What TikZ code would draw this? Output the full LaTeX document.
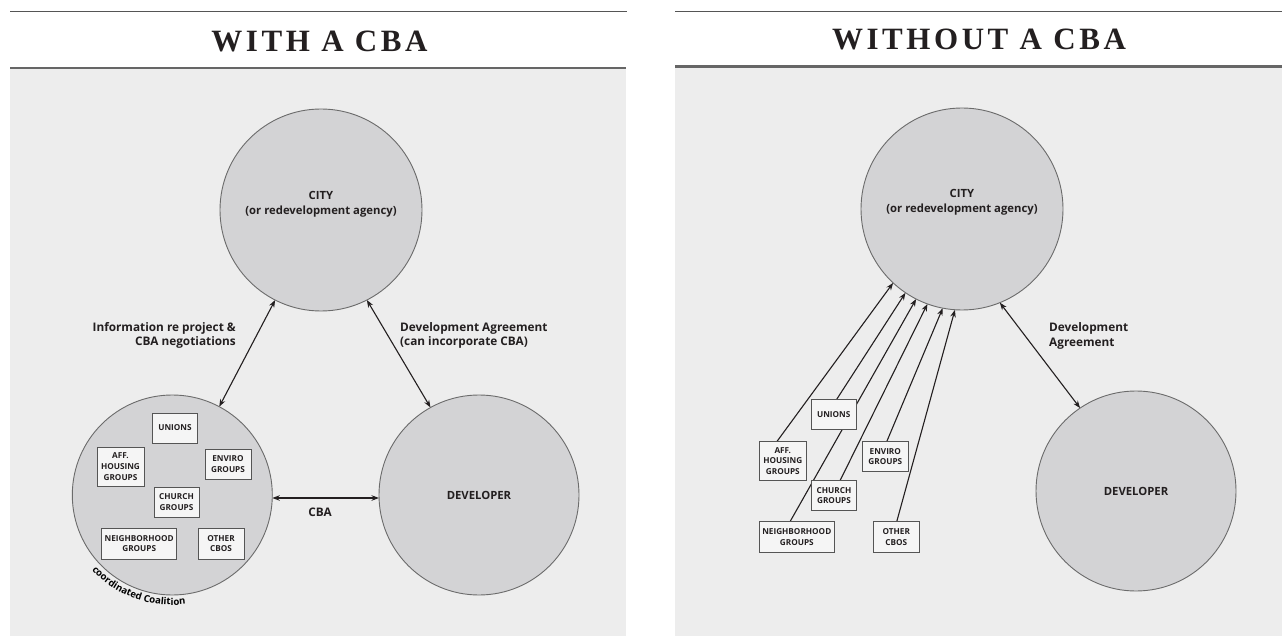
\documentclass[tikz,border=0pt]{standalone}
\usepackage{fontspec}
\setmainfont{Liberation Serif}
\newfontfamily\lblfont{Open Sans}
\newfontfamily\titlefont{Liberation Serif}[LetterSpace=11.5]
\usetikzlibrary{arrows.meta,decorations.text}
\definecolor{panel}{HTML}{EDEDED}
\definecolor{circfill}{HTML}{D3D3D5}
\definecolor{circline}{HTML}{6B6B6B}
\definecolor{boxfill}{HTML}{F5F5F5}
\definecolor{boxline}{HTML}{555555}
\definecolor{ink}{HTML}{231F20}
\definecolor{rule}{HTML}{555555}
\pgfdeclarelayer{back}
\pgfdeclarelayer{mid}
\pgfsetlayers{back,mid,main}
\begin{document}
\begin{tikzpicture}[x=1pt,y=-1pt,
  bigcirc/.style={circle, draw=circline, fill=circfill, line width=0.9pt, minimum size=#1, inner sep=0pt, outer sep=0pt,
    font=\lblfont\bfseries\fontsize{11.3}{14.5}\selectfont, text=ink, align=center},
  grpbox/.style={draw=boxline, fill=boxfill, line width=0.9pt, inner sep=1pt, outer sep=0pt, align=center,
    font=\lblfont\bfseries\fontsize{8.2}{10.7}\selectfont, text=ink},
  lbl/.style={font=\lblfont\bfseries\fontsize{11.8}{14.5}\selectfont, text=ink, inner sep=0pt},
  conn/.style={draw=ink, line width=1.1pt, {Stealth[length=7.5pt,width=5.5pt]}-{Stealth[length=7.5pt,width=5.5pt]}},
  oneway/.style={draw=ink, line width=1.1pt, -{Stealth[length=7.5pt,width=5.5pt]}},
  ttl/.style={font=\titlefont\bfseries\fontsize{31}{31}\selectfont, text=ink, inner sep=0pt, anchor=base},
  topline/.style={draw=rule, line width=1.3pt},
  headline/.style={draw=rule!90, line width=2.5pt}
]
\useasboundingbox (0,0) rectangle (1282,636);
\begin{pgfonlayer}{back}
\fill[white] (0,0) rectangle (1282,636);
% left panel
\draw[topline] (10,11.7) -- (627,11.7);
\fill[panel] (10,68) rectangle (626,636);
\draw[headline] (10,68) -- (626,68);
% right panel
\draw[topline] (675,11.7) -- (1282,11.7);
\fill[panel] (675,66.5) rectangle (1282,636);
\draw[headline] (675,66.5) -- (1282,66.5);
\end{pgfonlayer}

\node[ttl] (t1) at (319.5,52) {WITH A CBA};
\node[ttl] (t2) at (979,50) {WITHOUT A CBA};

% ---------- left diagram ----------
\node[bigcirc=202pt] (city) at (321,210) {};
\node[lbl, align=center, font=\lblfont\bfseries\fontsize{11.3}{15}\selectfont] (citytxt) at (321,204) {CITY\\(or redevelopment agency)};
\node[bigcirc=200pt] (coal) at (172.3,495) {};
\node[bigcirc=200pt] (dev) at (479,495) {DEVELOPER};

\node[grpbox, minimum width=44.6pt, minimum height=30pt] (uni) at (175,428) {UNIONS};
\node[grpbox, minimum width=47pt, minimum height=39pt] (aff) at (120.5,466.5) {AFF.\\HOUSING\\GROUPS};
\node[grpbox, minimum width=46pt, minimum height=30pt] (env) at (228,464) {ENVIRO\\GROUPS};
\node[grpbox, minimum width=45pt, minimum height=30pt] (chu) at (176.5,502) {CHURCH\\GROUPS};
\node[grpbox, minimum width=75pt, minimum height=31pt] (nei) at (139.2,543.5) {NEIGHBORHOOD\\GROUPS};
\node[grpbox, minimum width=46pt, minimum height=31pt] (oth) at (221,543.5) {OTHER\\CBOS};

\path[decorate, decoration={text along path, text align=center,
  text={|\lblfont\bfseries\fontsize{9.6}{9.6}\selectfont|coordinated Coalition}}]
  ([shift={(218:110pt)}]coal.center) arc[start angle=218, end angle=282, radius=110pt];

\begin{pgfonlayer}{mid}
\draw[conn] (city.243) -- (coal.62);
\draw[conn] (city.297) -- (dev.119);
\draw[conn] ([yshift=-3pt]coal.east) -- ([yshift=-3pt]coal.east -| dev.west);
\end{pgfonlayer}

\node[lbl, anchor=east, align=right] (info) at (236,335.5) {Information re project \&\\CBA negotiations};
\node[lbl, anchor=west, align=left] (devag) at (400,335.5) {Development Agreement\\(can incorporate CBA)};
\node[lbl] (cbalbl) at (320,512) {CBA};

% ---------- right diagram ----------
\node[bigcirc=202pt] (city2) at (962,209) {};
\node[lbl, align=center, font=\lblfont\bfseries\fontsize{11.3}{15}\selectfont] (citytxt2) at (962,202) {CITY\\(or redevelopment agency)};
\node[bigcirc=200pt] (dev2) at (1136,491) {DEVELOPER};

\node[grpbox, minimum width=47.7pt, minimum height=38.3pt] (aff2) at (782.8,460.8) {AFF.\\HOUSING\\GROUPS};
\node[grpbox, minimum width=45.3pt, minimum height=30pt] (uni2) at (833.7,414.3) {UNIONS};
\node[grpbox, minimum width=46pt, minimum height=30pt] (env2) at (885.3,456.7) {ENVIRO\\GROUPS};
\node[grpbox, minimum width=44.6pt, minimum height=30pt] (chu2) at (834,495.7) {CHURCH\\GROUPS};
\node[grpbox, minimum width=75pt, minimum height=31pt] (nei2) at (796.8,537.2) {NEIGHBORHOOD\\GROUPS};
\node[grpbox, minimum width=46pt, minimum height=31pt] (oth2) at (896.3,537.2) {OTHER\\CBOS};

\begin{pgfonlayer}{mid}
\draw[conn] (city2.292) -- (dev2.124);
\draw[oneway] ([xshift=-6pt]aff2.north) -- (city2.227);
\draw[oneway] ([xshift=3pt]uni2.north) -- (city2.236);
\draw[oneway] ([xshift=-6.8pt]nei2.north) -- (city2.243);
\draw[oneway] ([xshift=6pt]chu2.north) -- (city2.250);
\draw[oneway] ([xshift=1.4pt]env2.north) -- (city2.259);
\draw[oneway] ([xshift=0.4pt]oth2.north) -- (city2.266);
\end{pgfonlayer}

\node[lbl, anchor=west, align=left] (devag2) at (1049,336) {Development\\Agreement};
\end{tikzpicture}
\end{document}
